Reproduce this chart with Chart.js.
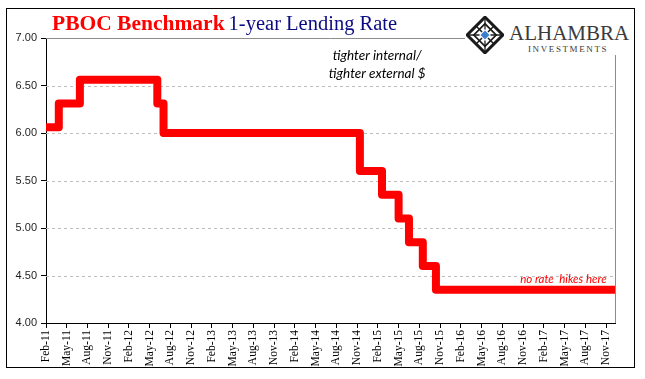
<!DOCTYPE html>
<html><head><meta charset="utf-8">
<script src="https://cdn.jsdelivr.net/npm/chart.js@4.4.1/dist/chart.umd.min.js"></script>
<style>
html,body{margin:0;padding:0;background:#fff;}
#wrap{position:relative;width:645px;height:379px;overflow:hidden;background:#fff;}
#frame{position:absolute;left:6px;top:8px;width:629px;height:360px;border:1px solid #000;box-sizing:border-box;}
#c{position:absolute;left:0;top:0;}
#title{position:absolute;left:52px;top:13px;line-height:21px;white-space:nowrap;font-family:"Liberation Serif",serif;}
#title .a{color:#ff0000;font-weight:bold;font-size:21.5px;}
#title .b{color:#0b0b82;font-size:20.5px;}
#logo{position:absolute;left:465px;top:9px;width:168px;height:46px;background:#fff;z-index:2;}
#logo svg{position:absolute;left:1px;top:7px;}
#alh{position:absolute;left:44px;top:14px;font-family:"Liberation Serif",serif;font-size:21px;line-height:21px;color:#3a3a3a;white-space:nowrap;}
#inv{position:absolute;left:63px;top:35.5px;font-family:"Liberation Serif",serif;font-size:9px;line-height:9px;letter-spacing:1.6px;color:#3a3a3a;white-space:nowrap;}
</style></head>
<body>
<div id="wrap">
  <div id="frame"></div>
  <canvas id="c" width="645" height="379"></canvas>
  <div id="title"><span class="a">PBOC Benchmark</span> <span class="b">1-year Lending Rate</span></div>
  <div id="logo">
    <svg width="38" height="38" viewBox="0 0 36 36">
      <g transform="rotate(45 18 18)">
        <rect x="6" y="6" width="24" height="24" fill="none" stroke="#1a1a1a" stroke-width="2.8"/>
        <rect x="10.5" y="10.5" width="15" height="15" fill="none" stroke="#1a1a1a" stroke-width="1.6"/>
        <line x1="6" y1="18" x2="30" y2="18" stroke="#1a1a1a" stroke-width="1.4"/>
        <line x1="18" y1="6" x2="18" y2="30" stroke="#1a1a1a" stroke-width="1.4"/>
        <line x1="6" y1="6" x2="30" y2="30" stroke="#1a1a1a" stroke-width="1.2"/>
        <line x1="30" y1="6" x2="6" y2="30" stroke="#1a1a1a" stroke-width="1.2"/>
        <rect x="14.5" y="14.5" width="7" height="7" fill="#3b7fcf" stroke="#fff" stroke-width="1"/>
      </g>
    </svg>
    <div id="alh">ALHAMBRA</div>
    <div id="inv">INVESTMENTS</div>
  </div>
</div>
<script>
// ---- data ----
// step positions in months after Feb-2011 (x) and the benchmark rate (%)
const stepMonths = [0, 1.85, 4.9, 16.1, 17.0, 45.4, 48.6, 51.0, 52.5, 54.5, 56.4, 82.3];
const rates      = [6.06, 6.31, 6.56, 6.31, 6.00, 5.60, 5.35, 5.10, 4.85, 4.60, 4.35, 4.35];
const tickLabels = ['Feb-11','May-11','Aug-11','Nov-11','Feb-12','May-12','Aug-12','Nov-12',
                    'Feb-13','May-13','Aug-13','Nov-13','Feb-14','May-14','Aug-14','Nov-14',
                    'Feb-15','May-15','Aug-15','Nov-15','Feb-16','May-16','Aug-16','Nov-16',
                    'Feb-17','May-17','Aug-17','Nov-17'];
const yTicks = [4.00, 4.50, 5.00, 5.50, 6.00, 6.50, 7.00];
const notes = [
  {text:'tighter internal/',   x:47.9, y:6.81, color:'#000', font:'italic 13.5px Lato', align:'center'},
  {text:'tighter external $',  x:47.9, y:6.62, color:'#000', font:'italic 13.5px Lato', align:'center'},
  {text:'no rate  hikes here', x:81.1, y:4.46, color:'#ff0000', font:'italic 11.5px Lato', align:'right'}
];

const gridPlugin = {
  id:'gridPlugin',
  beforeDatasetsDraw(chart){
    const {ctx, chartArea:a, scales:{x, y}} = chart;
    ctx.save();
    ctx.strokeStyle = '#bdbdbd'; ctx.lineWidth = 1; ctx.setLineDash([3,3]);
    yTicks.forEach(v => {
      if (v <= yTicks[0] || v >= yTicks[yTicks.length-1]) return;
      const py = Math.round(y.getPixelForValue(v)) + 0.5;
      ctx.beginPath(); ctx.moveTo(a.left, py); ctx.lineTo(a.right, py); ctx.stroke();
    });
    ctx.setLineDash([]);
    ctx.strokeStyle = '#8c8c8c';
    const top = Math.round(y.getPixelForValue(yTicks[yTicks.length-1])) + 0.5;
    const rx = Math.round(a.right) + 0.5;
    ctx.beginPath(); ctx.moveTo(a.left, top); ctx.lineTo(rx, top); ctx.lineTo(rx, a.bottom); ctx.stroke();
    ctx.restore();
  },
  afterDatasetsDraw(chart){
    const {ctx, scales:{x, y}} = chart;
    ctx.save();
    ctx.textBaseline = 'middle';
    notes.forEach(n => {
      ctx.font = n.font; ctx.fillStyle = n.color; ctx.textAlign = n.align;
      ctx.fillText(n.text, x.getPixelForValue(n.x), y.getPixelForValue(n.y));
    });
    ctx.restore();
  }
};

new Chart(document.getElementById('c'), {
  type:'line',
  data:{
    datasets:[{
      data: stepMonths.map((m,i)=>({x:m, y:rates[i]})),
      stepped:true,
      borderColor:'#ff0000',
      borderWidth:8,
      borderJoinStyle:'round',
      pointRadius:0,
      fill:false
    }]
  },
  options:{
    responsive:false, animation:false,
    layout:{padding:{top:38, right:30, left:0, bottom:0}},
    plugins:{legend:{display:false}, tooltip:{enabled:false}, title:{display:false}},
    scales:{
      x:{
        type:'linear', min:0, max:stepMonths[stepMonths.length-1],
        afterBuildTicks: s => { s.ticks = tickLabels.map((_,i)=>({value:i*3})); },
        afterFit: s => { s.height = 56; },
        ticks:{
          autoSkip:false, minRotation:90, maxRotation:90, padding:2,
          color:'#000', font:{family:'Liberation Serif', size:11.5},
          callback: v => tickLabels[Math.round(v/3)]
        },
        grid:{drawOnChartArea:false, drawTicks:true, tickLength:5, tickColor:'#000'},
        border:{color:'#000', width:1}
      },
      y:{
        min:yTicks[0], max:yTicks[yTicks.length-1],
        afterBuildTicks: s => { s.ticks = yTicks.map(v=>({value:v})); },
        afterFit: s => { s.width = 46; },
        ticks:{
          padding:4, color:'#1e1e1e', font:{family:'Liberation Sans', size:11},
          callback: v => Number(v).toFixed(2)
        },
        grid:{drawOnChartArea:false, drawTicks:true, tickLength:5, tickColor:'#000'},
        border:{color:'#000', width:1}
      }
    }
  },
  plugins:[gridPlugin]
});
</script>
</body></html>
